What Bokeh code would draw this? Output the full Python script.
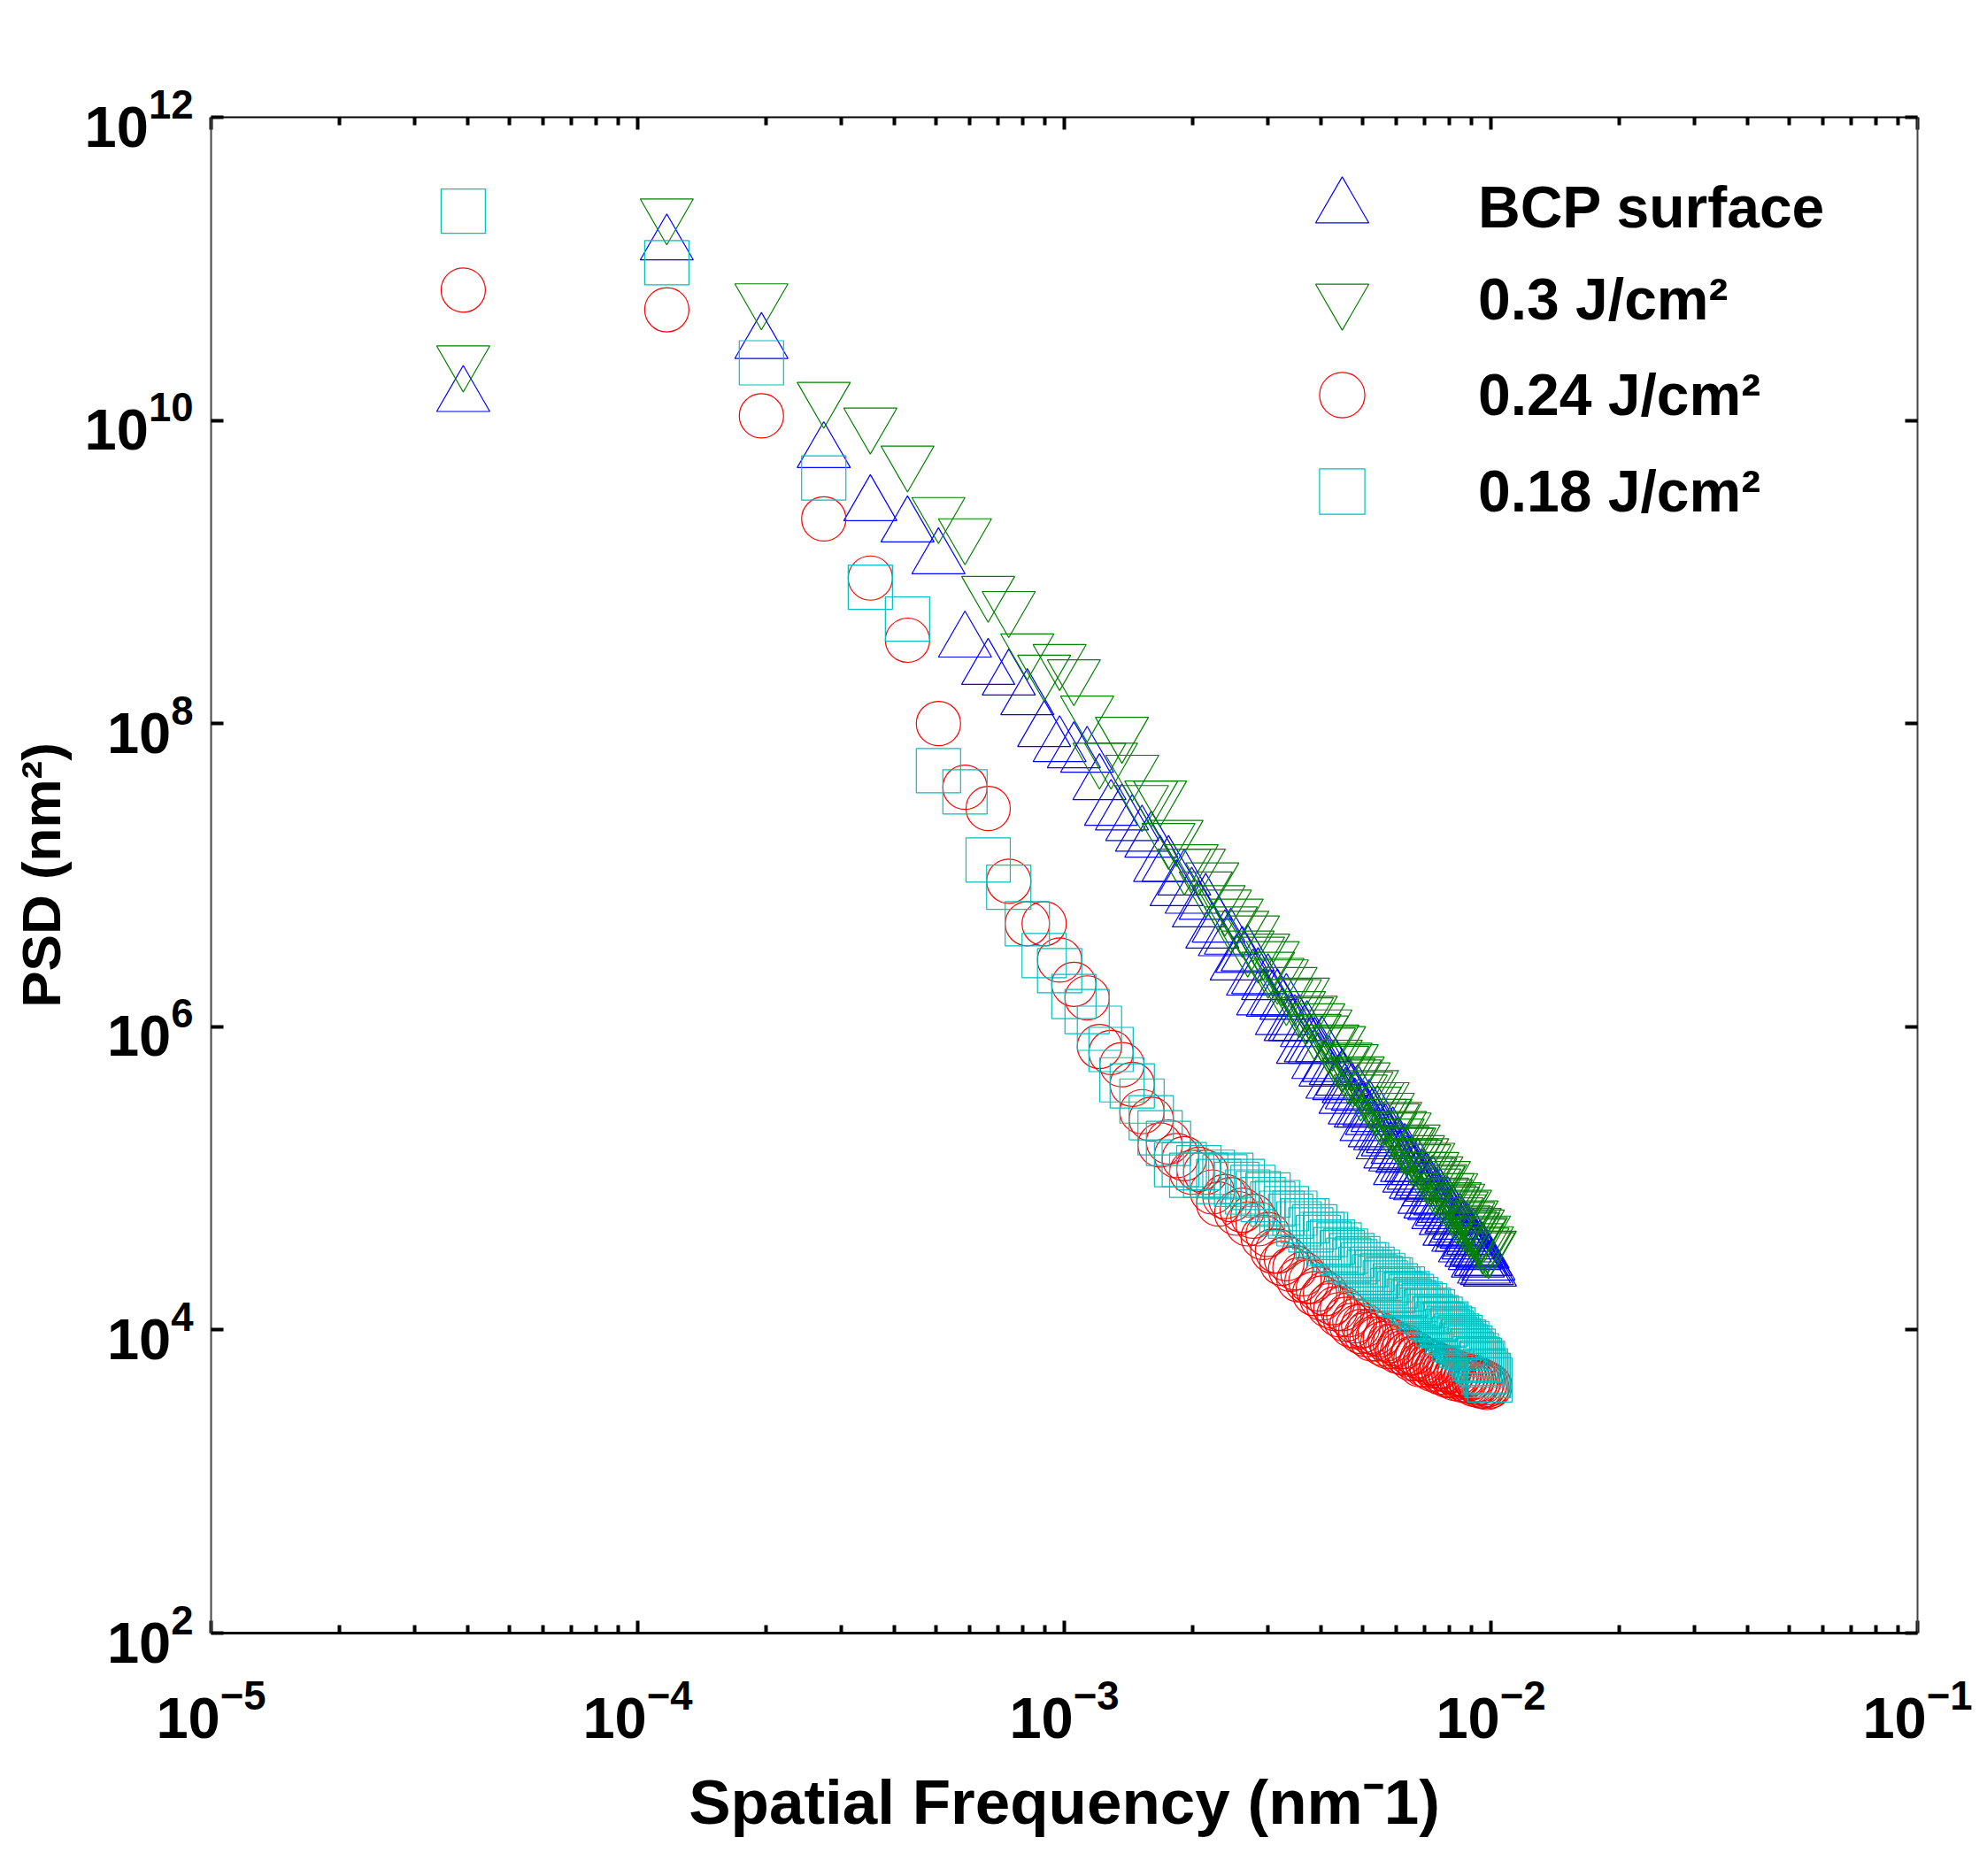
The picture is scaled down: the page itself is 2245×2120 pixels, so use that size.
import math
from bokeh.plotting import figure
from bokeh.models import (LogAxis, FixedTicker, Legend, LegendItem,
                          Range1d, ColumnDataSource)
from bokeh.embed import file_html
from bokeh.resources import INLINE

# ---------------- data ----------------
F0 = 3.9e-5  # fundamental spatial frequency, nm^-1
harmonic = [1, 3, 5, 7, 9, 11, 13, 15, 17, 19, 21, 23, 25, 27, 29, 31, 33, 35, 37, 39,
            41, 43, 45, 47, 49, 51, 53, 55, 57, 59, 61, 63, 65, 67, 69, 71, 73, 75, 77, 79,
            81, 83, 85, 87, 89, 91, 93, 95, 97, 99, 101, 103, 105, 107, 109, 111, 113, 115,
            117, 119, 121, 123, 125, 127, 129, 131, 133, 135, 137, 139, 141, 143, 145, 147,
            149, 151, 153, 155, 157, 159, 161, 163, 165, 167, 169, 171, 173, 175, 177, 179,
            181, 183, 185, 187, 189, 191, 193, 195, 197, 199, 201, 203, 205, 207, 209, 211,
            213, 215, 217, 219, 221, 223, 225, 227, 229, 231, 233, 235, 237, 239, 241, 243,
            245, 247, 249, 251, 253, 255]

# log10(PSD) values
log_psd_bcp = [10.16, 11.16, 10.51, 9.79, 9.44, 9.30, 9.09, 8.54, 8.36, 8.29,
               8.16, 7.95, 7.85, 7.81, 7.78, 7.60, 7.43, 7.40, 7.33, 7.26,
               7.22, 7.06, 7.06, 6.90, 6.97, 6.85, 6.76, 6.81, 6.62, 6.66,
               6.57, 6.58, 6.41, 6.46, 6.47, 6.31, 6.32, 6.18, 6.28, 6.17,
               6.18, 6.05, 6.15, 6.01, 6.01, 6.01, 5.86, 5.97, 5.87, 5.86,
               5.76, 5.87, 5.71, 5.74, 5.63, 5.72, 5.62, 5.65, 5.53, 5.60,
               5.56, 5.46, 5.55, 5.44, 5.44, 5.35, 5.45, 5.39, 5.31, 5.41,
               5.29, 5.23, 5.29, 5.25, 5.17, 5.27, 5.15, 5.20, 5.06, 5.14,
               5.16, 5.08, 5.01, 5.08, 5.03, 4.97, 5.06, 4.96, 4.99, 4.87,
               4.97, 4.92, 4.84, 4.95, 4.83, 4.87, 4.77, 4.86, 4.79, 4.81,
               4.73, 4.81, 4.66, 4.74, 4.75, 4.66, 4.68, 4.62, 4.70, 4.62,
               4.65, 4.55, 4.64, 4.57, 4.59, 4.52, 4.60, 4.50, 4.53, 4.45,
               4.52, 4.46, 4.51, 4.41, 4.46, 4.40, 4.43, 4.39]

log_psd_030 = [10.39, 11.36, 10.80, 10.15, 9.98, 9.73, 9.39, 9.25, 8.87, 8.77,
               8.49, 8.35, 8.42, 8.32, 8.08, 7.77, 7.77, 7.94, 7.69, 7.49,
               7.52, 7.52, 7.24, 7.26, 7.07, 7.10, 7.07, 6.92, 6.98, 6.83,
               6.80, 6.69, 6.74, 6.66, 6.53, 6.63, 6.49, 6.51, 6.39, 6.46,
               6.35, 6.34, 6.21, 6.29, 6.21, 6.13, 6.22, 6.09, 6.10, 5.98,
               6.05, 5.97, 6.01, 5.89, 5.91, 5.81, 5.90, 5.77, 5.79, 5.69,
               5.78, 5.68, 5.70, 5.58, 5.66, 5.60, 5.53, 5.61, 5.50, 5.53,
               5.42, 5.53, 5.42, 5.46, 5.33, 5.39, 5.40, 5.29, 5.34, 5.24,
               5.33, 5.23, 5.23, 5.16, 5.25, 5.15, 5.18, 5.07, 5.16, 5.12,
               5.04, 5.13, 5.03, 5.07, 4.96, 5.04, 4.98, 4.99, 4.90, 5.01,
               4.89, 4.93, 4.85, 4.93, 4.84, 4.87, 4.77, 4.86, 4.79, 4.81,
               4.72, 4.82, 4.71, 4.74, 4.68, 4.75, 4.67, 4.70, 4.60, 4.69,
               4.63, 4.64, 4.57, 4.65, 4.55, 4.58, 4.54, 4.55]

log_psd_024 = [10.86, 10.73, 10.03, 9.35, 8.96, 8.55, 8.00, 7.58, 7.44, 6.96,
               6.68, 6.68, 6.44, 6.28, 6.19, 5.87, 5.83, 5.75, 5.62, 5.44,
               5.39, 5.22, 5.24, 5.15, 5.13, 5.04, 5.06, 5.04, 4.91, 4.83,
               4.88, 4.86, 4.77, 4.79, 4.70, 4.75, 4.70, 4.61, 4.63, 4.52,
               4.52, 4.44, 4.47, 4.40, 4.41, 4.33, 4.37, 4.32, 4.32, 4.24,
               4.27, 4.21, 4.24, 4.16, 4.18, 4.14, 4.10, 4.14, 4.07, 4.10,
               4.03, 4.06, 4.02, 3.99, 4.03, 3.97, 3.99, 3.94, 3.98, 3.94,
               3.97, 3.91, 3.94, 3.89, 3.93, 3.89, 3.91, 3.86, 3.89, 3.85,
               3.89, 3.84, 3.85, 3.81, 3.85, 3.81, 3.83, 3.77, 3.81, 3.77,
               3.80, 3.76, 3.78, 3.74, 3.78, 3.74, 3.76, 3.72, 3.76, 3.72,
               3.74, 3.70, 3.73, 3.70, 3.73, 3.68, 3.71, 3.69, 3.71, 3.67,
               3.70, 3.67, 3.70, 3.66, 3.68, 3.66, 3.69, 3.64, 3.67, 3.65,
               3.67, 3.63, 3.66, 3.63, 3.65, 3.62, 3.64, 3.63]

log_psd_018 = [11.38, 11.04, 10.38, 9.62, 8.90, 8.69, 7.69, 7.55, 7.10, 6.92,
               6.68, 6.47, 6.37, 6.20, 6.10, 5.99, 5.85, 5.65, 5.61, 5.51,
               5.40, 5.30, 5.23, 5.09, 5.09, 5.02, 5.07, 5.02, 5.04, 4.98,
               5.01, 5.02, 4.96, 4.98, 4.91, 4.94, 4.90, 4.86, 4.89, 4.83,
               4.84, 4.77, 4.80, 4.75, 4.77, 4.70, 4.72, 4.72, 4.66, 4.68,
               4.61, 4.63, 4.63, 4.57, 4.58, 4.53, 4.56, 4.51, 4.52, 4.46,
               4.49, 4.45, 4.47, 4.40, 4.43, 4.43, 4.38, 4.40, 4.35, 4.38,
               4.34, 4.36, 4.31, 4.33, 4.33, 4.26, 4.29, 4.27, 4.24, 4.27,
               4.23, 4.24, 4.19, 4.22, 4.18, 4.20, 4.15, 4.17, 4.13, 4.16,
               4.12, 4.13, 4.09, 4.12, 4.07, 4.08, 4.04, 4.07, 4.03, 4.03,
               4.04, 3.99, 4.01, 3.98, 4.00, 3.94, 3.96, 3.93, 3.95, 3.90,
               3.92, 3.89, 3.91, 3.86, 3.88, 3.84, 3.86, 3.81, 3.83, 3.80,
               3.80, 3.77, 3.78, 3.72, 3.73, 3.70, 3.70, 3.67]

series_names = ["BCP surface", "0.3 J/cm\u00b2", "0.24 J/cm\u00b2", "0.18 J/cm\u00b2"]
series_markers = ["triangle", "inverted_triangle", "circle", "square"]
series_colors = ["#0000FF", "#008000", "#FF0000", "#00BFBF"]
series_sizes = [60, 60, 50, 50]

x_tick_values = [1e-5, 1e-4, 1e-3, 1e-2, 1e-1]
x_tick_labels = ["10\u207b\u2075", "10\u207b\u2074", "10\u207b\u00b3", "10\u207b\u00b2", "10\u207b\u00b9"]
x_minor_ticks = [m * 10.0 ** k for k in (-5, -4, -3, -2) for m in range(2, 10)]
y_tick_values = [1e2, 1e4, 1e6, 1e8, 1e10, 1e12]
y_tick_labels = ["10\u00b2", "10\u2074", "10\u2076", "10\u2078", "10\u00b9\u2070", "10\u00b9\u00b2"]

x_title = "Spatial Frequency (nm\u207b1)"
y_title = "PSD (nm\u00b2)"

FONT = "Liberation Sans"

# ---------------- figure ----------------
p = figure(width=2240, height=2116, x_axis_type="log", y_axis_type="log",
           x_range=Range1d(1e-5, 1e-1), y_range=Range1d(1e2, 1e12),
           output_backend="svg", toolbar_location=None,
           min_border_left=238, min_border_right=74,
           min_border_top=132, min_border_bottom=271)
p.grid.visible = False
p.outline_line_color = None
p.background_fill_color = "white"
p.border_fill_color = "white"

freq = [h * F0 for h in harmonic]
renderers = []
for logs, mk, col, sz in zip([log_psd_bcp, log_psd_030, log_psd_024, log_psd_018],
                             series_markers, series_colors, series_sizes):
    src = ColumnDataSource(dict(x=freq, y=[10.0 ** v for v in logs]))
    r = p.scatter("x", "y", source=src, marker=mk, size=sz,
                  fill_color=None, line_color=col, line_width=1.2)
    renderers.append(r)


def style_axis(ax, line_color, line_width):
    ax.axis_line_color = line_color
    ax.axis_line_width = line_width
    ax.major_tick_in = 14
    ax.major_tick_out = 0
    ax.minor_tick_in = 9
    ax.minor_tick_out = 0
    ax.major_tick_line_width = 4
    ax.minor_tick_line_width = 4
    ax.major_tick_line_color = "black"
    ax.minor_tick_line_color = "black"
    ax.major_label_text_font = FONT
    ax.major_label_text_font_style = "bold"
    ax.major_label_text_font_size = "65px"
    ax.major_label_text_color = "black"


xb = p.xaxis[0]
xb.ticker = FixedTicker(ticks=x_tick_values, minor_ticks=x_minor_ticks)
xb.major_label_overrides = {str(v): t for v, t in zip(x_tick_values, x_tick_labels)}
style_axis(xb, "black", 3)
xb.major_label_standoff = 52
xb.axis_label = x_title
xb.axis_label_text_font = FONT
xb.axis_label_text_font_style = "bold"
xb.axis_label_text_font_size = "71px"
xb.axis_label_text_color = "black"
xb.axis_label_standoff = 30

yl = p.yaxis[0]
yl.ticker = FixedTicker(ticks=y_tick_values, minor_ticks=[])
yl.major_label_overrides = {str(v): t for v, t in zip(y_tick_values, y_tick_labels)}
style_axis(yl, "#444444", 2)
yl.major_label_standoff = 20
yl.axis_label = y_title
yl.axis_label_text_font = FONT
yl.axis_label_text_font_style = "bold"
yl.axis_label_text_font_size = "62px"
yl.axis_label_text_color = "black"
yl.axis_label_standoff = 12

xt = LogAxis(ticker=FixedTicker(ticks=x_tick_values, minor_ticks=x_minor_ticks))
style_axis(xt, "black", 2)
xt.major_label_text_font_size = "2px"
xt.major_label_text_color = None
p.add_layout(xt, "above")

yr = LogAxis(ticker=FixedTicker(ticks=y_tick_values, minor_ticks=[]))
style_axis(yr, "#444444", 2)
yr.major_label_text_font_size = "2px"
yr.major_label_text_color = None
p.add_layout(yr, "right")

# one single-entry legend per series so each key marker keeps the plot's marker size
legend_box = [150, 150, 128, 128]          # glyph box (px); marker drawn at 0.4 x box
legend_left = [1203, 1203, 1214, 1214]     # px from the frame's left edge
legend_bottom = [1536, 1432, 1335, 1226]   # px from the frame's bottom edge
legend_standoff = [79, 79, 90, 90]
for name, r, box, lx, ly, so in zip(series_names, renderers, legend_box,
                                    legend_left, legend_bottom, legend_standoff):
    lg = Legend(items=[LegendItem(label=name, renderers=[r])],
                location=(lx, ly), orientation="vertical",
                glyph_width=box, glyph_height=box, spacing=0,
                padding=0, margin=0, label_standoff=so,
                label_text_font=FONT, label_text_font_style="bold",
                label_text_font_size="66px", label_text_color="black",
                border_line_color=None, background_fill_alpha=0)
    p.add_layout(lg)

open("out.html", "w").write(file_html(p, INLINE))
